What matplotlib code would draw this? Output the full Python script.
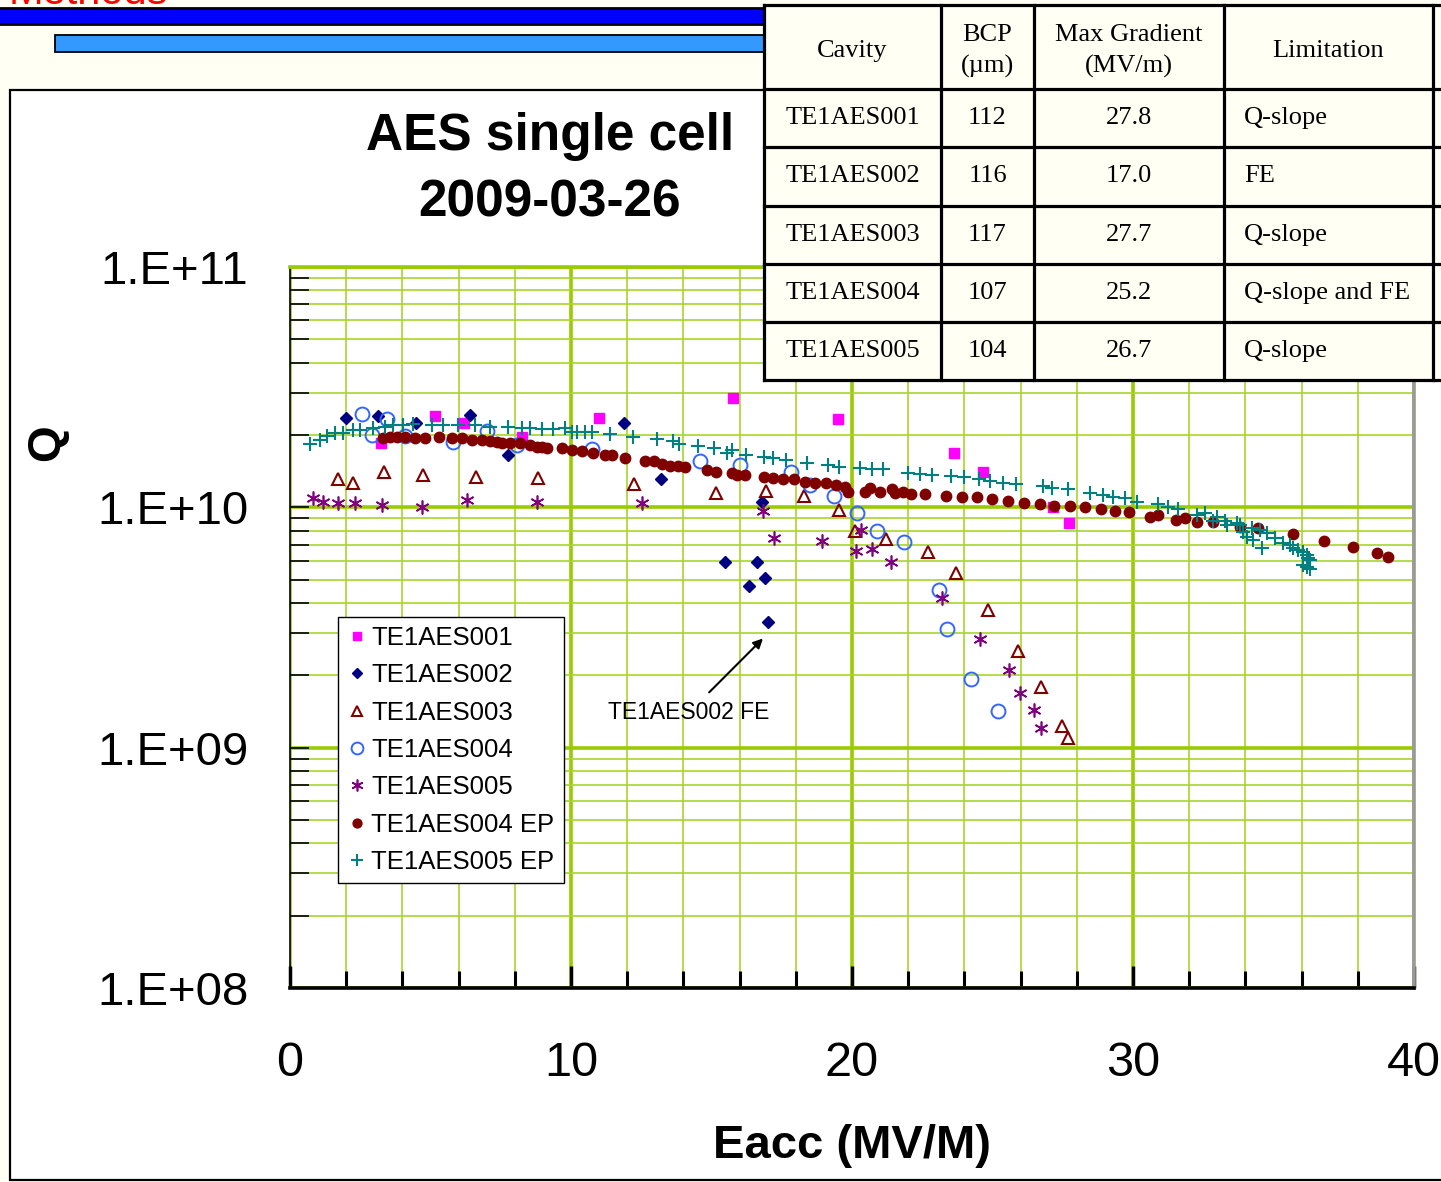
import numpy as np
import matplotlib.pyplot as plt
from matplotlib.patches import Rectangle
from matplotlib.ticker import LogLocator, MultipleLocator, NullFormatter

plt.rcParams['font.family'] = ['Liberation Sans', 'DejaVu Sans']

# ---- data (Eacc in MV/m, Q0) ----
x_001 = [3.24, 5.16, 6.19, 8.26, 11.0, 15.77, 19.5, 23.63, 24.66, 27.15, 27.72]
q_001 = [1.85e10, 2.4e10, 2.24e10, 1.96e10, 2.36e10, 2.85e10, 2.33e10, 1.68e10, 1.40e10, 1.0e10, 8.6e9]

x_002 = [1.99, 3.13, 4.48, 6.41, 7.76, 11.89, 13.20, 16.80, 15.48, 16.62, 16.33, 16.90, 17.01]
q_002 = [2.36e10, 2.40e10, 2.24e10, 2.42e10, 1.65e10, 2.24e10, 1.31e10, 1.05e10, 5.92e9, 5.92e9,
         4.70e9, 5.08e9, 3.33e9]

x_003 = [1.71, 2.24, 3.35, 4.73, 6.62, 8.83, 12.24, 15.16, 16.94, 18.29, 19.54, 20.11, 21.21,
         22.70, 23.70, 24.84, 25.91, 26.73, 27.47, 27.69]
q_003 = [1.31e10, 1.26e10, 1.40e10, 1.36e10, 1.34e10, 1.32e10, 1.25e10, 1.15e10, 1.17e10, 1.11e10,
         9.75e9, 7.97e9, 7.38e9, 6.52e9, 5.33e9, 3.74e9, 2.52e9, 1.79e9, 1.23e9, 1.10e9]

x_004 = [2.56, 3.45, 2.92, 4.09, 5.80, 7.01, 8.08, 10.75, 14.59, 16.01, 17.83, 18.51, 19.36,
         20.18, 20.89, 21.85, 23.10, 23.38, 24.23, 25.20]
q_004 = [2.44e10, 2.33e10, 2.00e10, 1.98e10, 1.87e10, 2.08e10, 1.82e10, 1.75e10, 1.56e10, 1.50e10,
         1.40e10, 1.24e10, 1.11e10, 9.47e9, 7.97e9, 7.18e9, 4.53e9, 3.12e9, 1.93e9, 1.42e9]

x_005 = [0.82, 1.17, 1.71, 2.31, 3.27, 4.70, 6.30, 8.79, 12.53, 16.83, 17.22, 18.93, 20.32,
         20.14, 20.71, 21.39, 23.20, 24.56, 25.59, 25.98, 26.48, 26.73]
q_005 = [1.09e10, 1.05e10, 1.04e10, 1.04e10, 1.02e10, 1.00e10, 1.07e10, 1.05e10, 1.04e10, 9.66e9,
         7.45e9, 7.24e9, 8.05e9, 6.58e9, 6.70e9, 5.92e9, 4.20e9, 2.83e9, 2.10e9, 1.69e9, 1.43e9, 1.21e9]

x_004ep = [3.31, 3.56, 3.81, 4.09, 4.45, 4.80, 5.30, 5.77, 6.12, 6.48, 6.83, 7.12, 7.37, 7.54,
           7.83, 8.19, 8.54, 8.79, 8.97, 9.15, 9.68, 10.04, 10.39, 10.78, 11.21, 11.46, 11.92,
           12.63, 12.95, 13.24, 13.52, 13.81, 14.06, 14.84, 15.16, 15.73, 15.91, 16.19, 16.87,
           17.19, 17.54, 17.94, 18.33, 18.68, 19.07, 19.43, 19.75, 19.86, 20.46, 20.64, 21.00,
           21.42, 21.53, 21.81, 22.10, 22.60, 23.35, 23.91, 24.45, 24.98, 25.55, 26.12, 26.69,
           27.19, 27.76, 28.29, 28.86, 29.36, 29.86, 30.60, 30.89, 31.53, 31.85, 32.28, 32.85,
           33.81, 34.45, 35.69, 36.80, 37.83, 38.68, 39.07]
q_004ep = [1.94e10, 1.96e10, 1.96e10, 1.96e10, 1.94e10, 1.94e10, 1.96e10, 1.94e10, 1.94e10,
           1.91e10, 1.91e10, 1.89e10, 1.87e10, 1.85e10, 1.85e10, 1.85e10, 1.82e10, 1.78e10,
           1.78e10, 1.77e10, 1.77e10, 1.73e10, 1.72e10, 1.68e10, 1.65e10, 1.65e10, 1.60e10,
           1.56e10, 1.56e10, 1.51e10, 1.49e10, 1.49e10, 1.47e10, 1.43e10, 1.40e10, 1.39e10,
           1.36e10, 1.36e10, 1.34e10, 1.32e10, 1.31e10, 1.31e10, 1.27e10, 1.26e10, 1.26e10,
           1.24e10, 1.22e10, 1.16e10, 1.16e10, 1.20e10, 1.16e10, 1.19e10, 1.15e10, 1.16e10,
           1.14e10, 1.14e10, 1.11e10, 1.10e10, 1.10e10, 1.08e10, 1.06e10, 1.04e10, 1.03e10,
           1.01e10, 1.01e10, 1.00e10, 9.84e9, 9.65e9, 9.56e9, 9.11e9, 9.29e9, 8.86e9, 9.03e9,
           8.69e9, 8.69e9, 8.28e9, 8.20e9, 7.74e9, 7.24e9, 6.84e9, 6.45e9, 6.21e9]

x_005ep = [0.71, 1.07, 1.32, 1.60, 1.89, 2.24, 2.49, 2.95, 3.38, 3.67, 4.02, 4.38, 5.05, 5.44,
           5.98, 6.58, 7.12, 7.76, 8.26, 8.54, 8.97, 9.36, 9.79, 10.04, 10.21, 10.50, 10.75,
           11.39, 12.21, 13.06, 13.63, 13.84, 14.52, 15.09, 15.55, 15.73, 16.23, 16.87, 17.19,
           17.65, 18.40, 19.15, 19.54, 20.28, 20.71, 21.10, 21.99, 22.42, 22.85, 23.52, 23.99,
           24.52, 24.91, 25.37, 25.84, 26.80, 27.12, 27.69, 28.47, 28.93, 29.29, 29.72, 30.14,
           30.89, 31.25, 31.60, 32.28, 32.56, 32.99, 32.85, 33.27, 33.35, 33.70, 33.81, 33.91,
           34.06, 34.27, 34.23, 34.52, 34.59, 34.77, 35.05, 35.34, 35.59, 35.69, 35.87, 36.05,
           36.19, 36.23, 36.30, 36.05, 36.19, 36.30]
q_005ep = [1.83e10, 1.91e10, 1.98e10, 2.04e10, 2.04e10, 2.10e10, 2.10e10, 2.14e10, 2.16e10,
           2.20e10, 2.20e10, 2.22e10, 2.20e10, 2.20e10, 2.20e10, 2.20e10, 2.16e10, 2.16e10,
           2.14e10, 2.14e10, 2.12e10, 2.12e10, 2.14e10, 2.06e10, 2.06e10, 2.06e10, 2.06e10,
           2.02e10, 1.96e10, 1.92e10, 1.89e10, 1.83e10, 1.80e10, 1.77e10, 1.68e10, 1.73e10,
           1.65e10, 1.62e10, 1.60e10, 1.57e10, 1.53e10, 1.50e10, 1.47e10, 1.46e10, 1.44e10,
           1.44e10, 1.39e10, 1.38e10, 1.36e10, 1.35e10, 1.34e10, 1.31e10, 1.29e10, 1.26e10,
           1.25e10, 1.23e10, 1.20e10, 1.19e10, 1.15e10, 1.13e10, 1.10e10, 1.09e10, 1.05e10,
           1.03e10, 1.00e10, 9.84e9, 9.29e9, 9.47e9, 9.11e9, 8.77e9, 8.77e9, 8.44e9, 8.60e9,
           8.44e9, 7.89e9, 7.52e9, 7.31e9, 8.20e9, 8.05e9, 6.77e9, 7.82e9, 7.45e9, 7.10e9,
           6.97e9, 6.77e9, 6.64e9, 6.52e9, 6.33e9, 6.15e9, 6.04e9, 5.75e9, 5.64e9, 5.54e9]

x_ticks = [0, 10, 20, 30, 40]
y_ticks = [1e8, 1e9, 1e10, 1e11]
y_labels = ['1.E+08', '1.E+09', '1.E+10', '1.E+11']

# table in the top right corner
tab_head = ['Cavity', 'BCP\n(\u00b5m)', 'Max Gradient\n(MV/m)', 'Limitation']
tab_cavity = ['TE1AES001', 'TE1AES002', 'TE1AES003', 'TE1AES004', 'TE1AES005']
tab_bcp = ['112', '116', '117', '107', '104']
tab_grad = ['27.8', '17.0', '27.7', '25.2', '26.7']
tab_limit = ['Q-slope', 'FE', 'Q-slope', 'Q-slope and FE', 'Q-slope']

W, H = 1441, 1182
cream = '#fffff4'
green = '#99cc00'

fig = plt.figure(figsize=(W / 100, H / 100), dpi=100, facecolor=cream)

# slide background pieces (pixel coords)
bg = fig.add_axes([0, 0, 1, 1], zorder=0)
bg.set_xlim(0, W); bg.set_ylim(H, 0); bg.axis('off')
bg.add_patch(Rectangle((10, 90), W, 1090, fc='white', ec='black', lw=1.6))
bg.add_patch(Rectangle((-5, 8), 770, 16, fc='#0000ff', ec='black', lw=2))
bg.add_patch(Rectangle((55, 35), 710, 17, fc='#3399ff', ec='black', lw=1.3))
# slide heading, mostly above the crop
bg.text(168, 4, 'Methods', color='red', fontsize=30, ha='right', va='baseline', clip_on=True)

# main plot
ax = fig.add_axes([290 / W, 1 - 988 / H, 1124 / W, 721 / H], zorder=1)
ax.set_yscale('log')
ax.set_xlim(0, 40)
ax.set_ylim(1e8, 1e11)

ax.plot(x_001, q_001, ls='none', marker='s', color='#ff00ff', ms=7, label='TE1AES001')
ax.plot(x_002, q_002, ls='none', marker='D', color='#000080', ms=6.5, label='TE1AES002')
ax.plot(x_003, q_003, ls='none', marker='^', mfc='none', mec='#800000', mew=1.5, ms=9,
        label='TE1AES003')
ax.plot(x_004, q_004, ls='none', marker='o', mfc='none', mec='#3366ff', mew=1.4, ms=10,
        label='TE1AES004')
ax.plot(x_005, q_005, ls='none', marker=(6, 2, 0), color='#800080', mew=1.2, ms=10,
        label='TE1AES005')
ax.plot(x_004ep, q_004ep, ls='none', marker='o', color='#800000', ms=7.5, label='TE1AES004 EP')
ax.plot(x_005ep, q_005ep, ls='none', marker='+', color='#008080', mew=1.5, ms=10,
        label='TE1AES005 EP')

ax.set_xticks(x_ticks)
ax.set_xticklabels([str(v) for v in x_ticks])
ax.xaxis.set_minor_locator(MultipleLocator(2))
ax.set_yticks(y_ticks)
ax.set_yticklabels(y_labels)
ax.yaxis.set_minor_locator(LogLocator(base=10, subs=np.arange(2, 10)))
ax.yaxis.set_minor_formatter(NullFormatter())

ax.set_axisbelow(True)
ax.grid(which='major', color=green, lw=2.6)
ax.grid(which='minor', color='#a9d42c', lw=1.2)

ax.tick_params(axis='x', which='major', direction='in', length=16, width=2.5, pad=38,
               labelsize=35)
ax.tick_params(axis='x', which='minor', direction='in', length=12, width=2.2)
ax.tick_params(axis='y', which='major', direction='in', length=14, width=1.2, pad=30,
               labelsize=34)
ax.tick_params(axis='y', which='minor', direction='in', length=14, width=1.2)

ax.spines['bottom'].set_linewidth(2.6)
ax.spines['left'].set_linewidth(1.2)
ax.spines['right'].set_color('#999999')
ax.spines['right'].set_linewidth(2.6)
ax.spines['top'].set_color(green)
ax.spines['top'].set_linewidth(2.6)

leg = ax.legend(loc='upper left', bbox_to_anchor=(338 / W, 1 - 617 / H),
                bbox_transform=fig.transFigure, borderaxespad=0, fontsize=18.5,
                fancybox=False, framealpha=1, edgecolor='black', handlelength=0.8,
                handletextpad=0.15, labelspacing=0.52, borderpad=0.35, markerscale=0.85)
leg.get_frame().set_linewidth(1.0)

ax.annotate('TE1AES002 FE', xy=(16.9, 2.9e9), xytext=(14.2, 1.40e9), fontsize=16.5,
            ha='center', va='center',
            arrowprops=dict(arrowstyle='-|>', color='black', lw=1.5, mutation_scale=14,
                            shrinkA=6, shrinkB=2))

fig.text(550 / W, 1 - 170 / H, 'AES single cell\n2009-03-26', fontsize=37,
         fontweight='bold', ha='center', va='center', linespacing=1.45)
fig.text(852 / W, 1 - 1146 / H, 'Eacc (MV/M)', fontsize=34, fontweight='bold',
         ha='center', va='center')
fig.text(47 / W, 1 - 443 / H, 'Q', fontsize=34, fontweight='bold', rotation=90,
         ha='center', va='center')

# table overlay
tb = fig.add_axes([0, 0, 1, 1], zorder=3)
tb.set_xlim(0, W); tb.set_ylim(H, 0); tb.axis('off')
tb.patch.set_visible(False)
cols = [764, 941, 1034, 1224, 1433]
rows = [5, 89, 147, 206, 264, 322, 380]
tb.add_patch(Rectangle((cols[0], rows[0]), W - cols[0] + 10, rows[-1] - rows[0], fc=cream,
                       ec='none'))
for c in cols:
    tb.plot([c, c], [rows[0], rows[-1]], color='black', lw=2.3, solid_capstyle='projecting')
for r in rows:
    tb.plot([cols[0], W + 5], [r, r], color='black', lw=2.3, solid_capstyle='projecting')

serif = ['Liberation Serif', 'DejaVu Serif']
hy = (rows[0] + rows[1]) / 2 + 4
for i, h in enumerate(tab_head):
    cx = (cols[i] + cols[i + 1]) / 2
    tb.text(cx, hy, h, family=serif, fontsize=19, ha='center', va='center', linespacing=1.5)
for j in range(len(tab_cavity)):
    cy = (rows[j + 1] + rows[j + 2]) / 2
    tb.text((cols[0] + cols[1]) / 2, cy, tab_cavity[j], family=serif, fontsize=19,
            ha='center', va='center')
    tb.text((cols[1] + cols[2]) / 2, cy, tab_bcp[j], family=serif, fontsize=19,
            ha='center', va='center')
    tb.text((cols[2] + cols[3]) / 2, cy, tab_grad[j], family=serif, fontsize=19,
            ha='center', va='center')
    tb.text(cols[3] + 20, cy, tab_limit[j], family=serif, fontsize=19, ha='left', va='center')

fig.savefig('out.png', dpi=100, facecolor=cream)
